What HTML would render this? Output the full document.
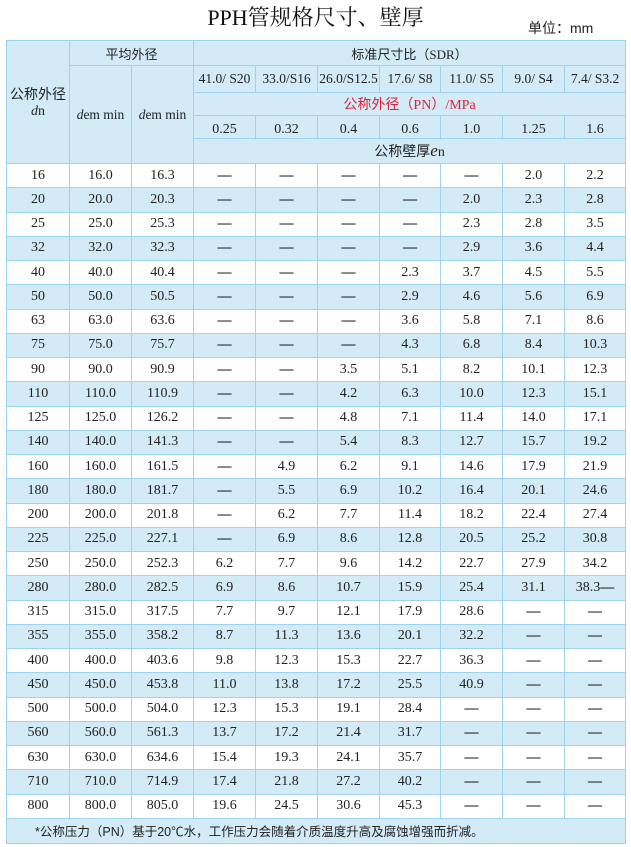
<!DOCTYPE html>
<html><head><meta charset="utf-8"><style>
body{margin:0;width:631px;height:847px;background:#fff;position:relative;font-family:"Liberation Serif","Noto Serif CJK SC",serif;color:#222;overflow:hidden}
.t{position:absolute;left:0;width:631px;top:5px;text-align:center;font-size:22px;line-height:26px;font-family:"Liberation Serif","Noto Serif CJK SC",serif;color:#111}
.u{position:absolute;left:528px;top:18px;font-size:14px;font-family:"Liberation Sans","Noto Sans CJK SC",sans-serif}
table{position:absolute;left:6px;top:40px;border-collapse:collapse;table-layout:fixed;width:619px}
td{border:1px solid #9fd2ee;text-align:center;font-size:14px;padding:0;overflow:hidden;white-space:nowrap}
.h td{background:#d3eaf7;font-family:"Liberation Serif","Noto Sans CJK SC",serif}
.h2 td{font-size:13.5px}
tr.b td{background:#d3eaf7}
tr.w td{background:#fff}
.d td{height:23.25px}
.r{color:#e0213b}
.v td{vertical-align:bottom}
.f td{background:#d3eaf7;text-align:left;padding-left:28px;height:24px;font-size:12.5px;font-family:"Liberation Sans","Noto Sans CJK SC",sans-serif}
.cj{font-family:"Liberation Sans","Noto Sans CJK SC",sans-serif}
b{font-weight:bold;color:#111}
</style></head><body>
<div class="t">PPH管规格尺寸、壁厚</div>
<div class="u">单位：mm</div>
<table>
<colgroup><col style="width:63px"><col style="width:62px"><col style="width:62px"><col style="width:62px"><col style="width:62px"><col style="width:62px"><col style="width:61px"><col style="width:62px"><col style="width:62px"><col style="width:61px"></colgroup>
<tr class="h"><td rowspan="5" class="cj" style="font-size:14px">公称外径<br><i style="font-family:'Liberation Serif'">d</i>n</td><td colspan="2" class="cj" style="height:24px;font-size:13px">平均外径</td><td colspan="7" class="cj" style="font-size:13px">标准尺寸比（SDR）</td></tr>
<tr class="h h2"><td rowspan="4"><i>d</i>em min</td><td rowspan="4"><i>d</i>em min</td><td style="height:26px">41.0/ S20</td><td>33.0/S16</td><td>26.0/S12.5</td><td>17.6/ S8</td><td>11.0/ S5</td><td>9.0/ S4</td><td>7.4/ S3.2</td></tr>
<tr class="h"><td colspan="7" class="r cj" style="height:22px">公称外径（PN）/MPa</td></tr>
<tr class="h v"><td style="height:22px">0.25</td><td>0.32</td><td>0.4</td><td>0.6</td><td>1.0</td><td>1.25</td><td>1.6</td></tr>
<tr class="h"><td colspan="7" class="cj" style="height:24px">公称壁厚<i style="font-family:'Liberation Serif';font-size:17px">e</i>n</td></tr>
<tr class="d w"><td>16</td><td>16.0</td><td>16.3</td><td><b>—</b></td><td><b>—</b></td><td><b>—</b></td><td><b>—</b></td><td><b>—</b></td><td>2.0</td><td>2.2</td></tr>
<tr class="d b"><td>20</td><td>20.0</td><td>20.3</td><td><b>—</b></td><td><b>—</b></td><td><b>—</b></td><td><b>—</b></td><td>2.0</td><td>2.3</td><td>2.8</td></tr>
<tr class="d w"><td>25</td><td>25.0</td><td>25.3</td><td><b>—</b></td><td><b>—</b></td><td><b>—</b></td><td><b>—</b></td><td>2.3</td><td>2.8</td><td>3.5</td></tr>
<tr class="d b"><td>32</td><td>32.0</td><td>32.3</td><td><b>—</b></td><td><b>—</b></td><td><b>—</b></td><td><b>—</b></td><td>2.9</td><td>3.6</td><td>4.4</td></tr>
<tr class="d w"><td>40</td><td>40.0</td><td>40.4</td><td><b>—</b></td><td><b>—</b></td><td><b>—</b></td><td>2.3</td><td>3.7</td><td>4.5</td><td>5.5</td></tr>
<tr class="d b"><td>50</td><td>50.0</td><td>50.5</td><td><b>—</b></td><td><b>—</b></td><td><b>—</b></td><td>2.9</td><td>4.6</td><td>5.6</td><td>6.9</td></tr>
<tr class="d w"><td>63</td><td>63.0</td><td>63.6</td><td><b>—</b></td><td><b>—</b></td><td><b>—</b></td><td>3.6</td><td>5.8</td><td>7.1</td><td>8.6</td></tr>
<tr class="d b"><td>75</td><td>75.0</td><td>75.7</td><td><b>—</b></td><td><b>—</b></td><td><b>—</b></td><td>4.3</td><td>6.8</td><td>8.4</td><td>10.3</td></tr>
<tr class="d w"><td>90</td><td>90.0</td><td>90.9</td><td><b>—</b></td><td><b>—</b></td><td>3.5</td><td>5.1</td><td>8.2</td><td>10.1</td><td>12.3</td></tr>
<tr class="d b"><td>110</td><td>110.0</td><td>110.9</td><td><b>—</b></td><td><b>—</b></td><td>4.2</td><td>6.3</td><td>10.0</td><td>12.3</td><td>15.1</td></tr>
<tr class="d w"><td>125</td><td>125.0</td><td>126.2</td><td><b>—</b></td><td><b>—</b></td><td>4.8</td><td>7.1</td><td>11.4</td><td>14.0</td><td>17.1</td></tr>
<tr class="d b"><td>140</td><td>140.0</td><td>141.3</td><td><b>—</b></td><td><b>—</b></td><td>5.4</td><td>8.3</td><td>12.7</td><td>15.7</td><td>19.2</td></tr>
<tr class="d w"><td>160</td><td>160.0</td><td>161.5</td><td><b>—</b></td><td>4.9</td><td>6.2</td><td>9.1</td><td>14.6</td><td>17.9</td><td>21.9</td></tr>
<tr class="d b"><td>180</td><td>180.0</td><td>181.7</td><td><b>—</b></td><td>5.5</td><td>6.9</td><td>10.2</td><td>16.4</td><td>20.1</td><td>24.6</td></tr>
<tr class="d w"><td>200</td><td>200.0</td><td>201.8</td><td><b>—</b></td><td>6.2</td><td>7.7</td><td>11.4</td><td>18.2</td><td>22.4</td><td>27.4</td></tr>
<tr class="d b"><td>225</td><td>225.0</td><td>227.1</td><td><b>—</b></td><td>6.9</td><td>8.6</td><td>12.8</td><td>20.5</td><td>25.2</td><td>30.8</td></tr>
<tr class="d w"><td>250</td><td>250.0</td><td>252.3</td><td>6.2</td><td>7.7</td><td>9.6</td><td>14.2</td><td>22.7</td><td>27.9</td><td>34.2</td></tr>
<tr class="d b"><td>280</td><td>280.0</td><td>282.5</td><td>6.9</td><td>8.6</td><td>10.7</td><td>15.9</td><td>25.4</td><td>31.1</td><td>38.3<b>—</b></td></tr>
<tr class="d w"><td>315</td><td>315.0</td><td>317.5</td><td>7.7</td><td>9.7</td><td>12.1</td><td>17.9</td><td>28.6</td><td><b>—</b></td><td><b>—</b></td></tr>
<tr class="d b"><td>355</td><td>355.0</td><td>358.2</td><td>8.7</td><td>11.3</td><td>13.6</td><td>20.1</td><td>32.2</td><td><b>—</b></td><td><b>—</b></td></tr>
<tr class="d w"><td>400</td><td>400.0</td><td>403.6</td><td>9.8</td><td>12.3</td><td>15.3</td><td>22.7</td><td>36.3</td><td><b>—</b></td><td><b>—</b></td></tr>
<tr class="d b"><td>450</td><td>450.0</td><td>453.8</td><td>11.0</td><td>13.8</td><td>17.2</td><td>25.5</td><td>40.9</td><td><b>—</b></td><td><b>—</b></td></tr>
<tr class="d w"><td>500</td><td>500.0</td><td>504.0</td><td>12.3</td><td>15.3</td><td>19.1</td><td>28.4</td><td><b>—</b></td><td><b>—</b></td><td><b>—</b></td></tr>
<tr class="d b"><td>560</td><td>560.0</td><td>561.3</td><td>13.7</td><td>17.2</td><td>21.4</td><td>31.7</td><td><b>—</b></td><td><b>—</b></td><td><b>—</b></td></tr>
<tr class="d w"><td>630</td><td>630.0</td><td>634.6</td><td>15.4</td><td>19.3</td><td>24.1</td><td>35.7</td><td><b>—</b></td><td><b>—</b></td><td><b>—</b></td></tr>
<tr class="d b"><td>710</td><td>710.0</td><td>714.9</td><td>17.4</td><td>21.8</td><td>27.2</td><td>40.2</td><td><b>—</b></td><td><b>—</b></td><td><b>—</b></td></tr>
<tr class="d w"><td>800</td><td>800.0</td><td>805.0</td><td>19.6</td><td>24.5</td><td>30.6</td><td>45.3</td><td><b>—</b></td><td><b>—</b></td><td><b>—</b></td></tr>
<tr class="f"><td colspan="10">*公称压力（PN）基于20℃水，工作压力会随着介质温度升高及腐蚀增强而折减。</td></tr>
</table>
</body></html>
